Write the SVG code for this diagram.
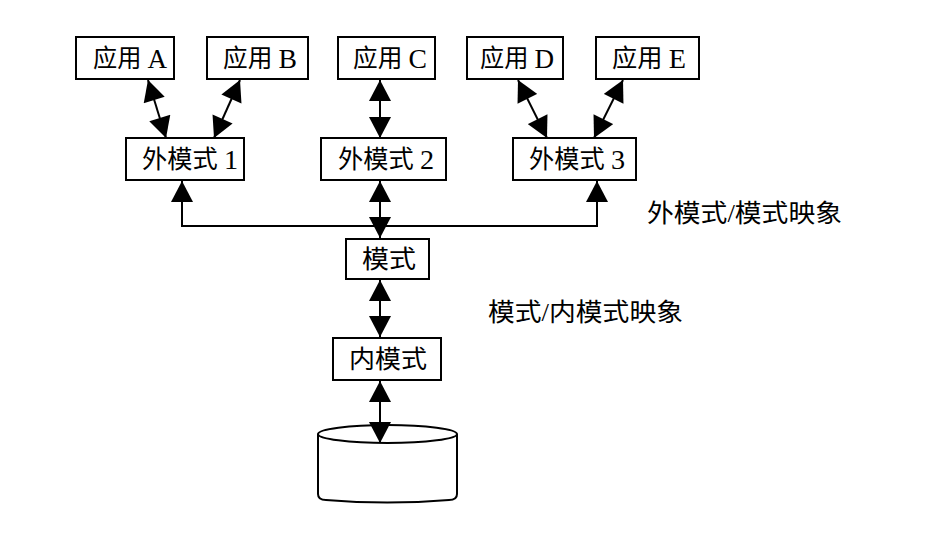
<svg xmlns="http://www.w3.org/2000/svg" width="932" height="536" viewBox="0 0 932 536">
<style>
.box{fill:#fff;stroke:#000;stroke-width:2}
.t{font-family:"Liberation Serif","Noto Sans CJK SC",serif;font-size:25px;fill:#000;text-anchor:middle;dominant-baseline:central}
.l{font-size:28px}
.lbl{font-family:"Liberation Serif","Noto Sans CJK SC",serif;font-size:25px;fill:#000}
.c{fill:none;stroke:#000;stroke-width:2;marker-start:url(#ah);marker-end:url(#ah)}
.db{fill:#fff;stroke:#000;stroke-width:2}
</style>
<defs>
<marker id="ah" markerUnits="userSpaceOnUse" markerWidth="22" markerHeight="22" viewBox="0 0 20 21" refX="20" refY="10.5" orient="auto-start-reverse">
<path d="M0,0 L20,10.5 L0,21 z" fill="#000"/>
</marker>
</defs>
<rect width="932" height="536" fill="#fff"/>
<g id="connectors">
<line class="c" x1="148" y1="80" x2="166" y2="138"/>
<line class="c" x1="240" y1="80" x2="214" y2="138"/>
<line class="c" x1="380" y1="80" x2="380" y2="138"/>
<line class="c" x1="518" y1="80" x2="547" y2="138"/>
<line class="c" x1="623" y1="80" x2="594" y2="138"/>
<path class="c" d="M182,181 V226 H597 V181"/>
<line class="c" x1="380" y1="181" x2="380" y2="238"/>
<line class="c" x1="380" y1="280" x2="380" y2="337"/>
</g>
<g id="db">
<path class="db" d="M318,434 V494 Q318,500 326,500 Q387,505 449,500 Q457,500 457,494 V434"/>
<ellipse class="db" cx="387.5" cy="434" rx="69.5" ry="9"/>
</g>
<line class="c" x1="380" y1="381" x2="380" y2="443"/>
<g id="appA"><rect class="box" x="76" y="37" width="98" height="42"/><text class="t" x="130" y="58" textLength="74" lengthAdjust="spacingAndGlyphs">应用 <tspan class="l">A</tspan></text></g>
<g id="appB"><rect class="box" x="207" y="37" width="101" height="42"/><text class="t" x="260" y="58" textLength="74" lengthAdjust="spacingAndGlyphs">应用 <tspan class="l">B</tspan></text></g>
<g id="appC"><rect class="box" x="338" y="37" width="97" height="42"/><text class="t" x="390" y="58" textLength="74" lengthAdjust="spacingAndGlyphs">应用 <tspan class="l">C</tspan></text></g>
<g id="appD"><rect class="box" x="467" y="37" width="96" height="42"/><text class="t" x="517" y="58" textLength="74" lengthAdjust="spacingAndGlyphs">应用 <tspan class="l">D</tspan></text></g>
<g id="appE"><rect class="box" x="596" y="37" width="103" height="42"/><text class="t" x="649" y="58" textLength="74" lengthAdjust="spacingAndGlyphs">应用 <tspan class="l">E</tspan></text></g>
<g id="ext1"><rect class="box" x="126" y="138" width="118" height="42"/><text class="t" x="190" y="159" textLength="96" lengthAdjust="spacingAndGlyphs">外模式 <tspan class="l">1</tspan></text></g>
<g id="ext2"><rect class="box" x="321" y="138" width="125" height="42"/><text class="t" x="386" y="159" textLength="96" lengthAdjust="spacingAndGlyphs">外模式 <tspan class="l">2</tspan></text></g>
<g id="ext3"><rect class="box" x="513" y="138" width="123" height="42"/><text class="t" x="577" y="159" textLength="96" lengthAdjust="spacingAndGlyphs">外模式 <tspan class="l">3</tspan></text></g>
<g id="schema"><rect class="box" x="346" y="239" width="83" height="40"/><text class="t" x="389" y="259" textLength="54" lengthAdjust="spacingAndGlyphs">模式</text></g>
<g id="internal"><rect class="box" x="333" y="338" width="108" height="42"/><text class="t" x="388" y="359" textLength="78" lengthAdjust="spacingAndGlyphs">内模式</text></g>
<g id="labels">
<text class="lbl" x="647" y="222" textLength="195" lengthAdjust="spacingAndGlyphs">外模式/模式映象</text>
<text class="lbl" x="488" y="321" textLength="195" lengthAdjust="spacingAndGlyphs">模式/内模式映象</text>
</g>
</svg>
